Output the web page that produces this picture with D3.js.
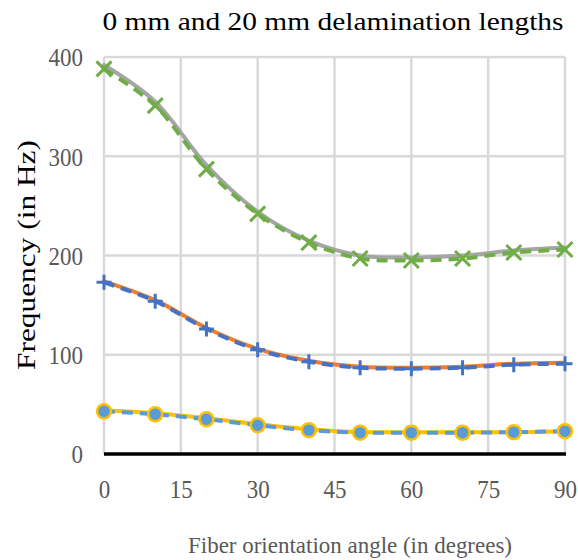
<!DOCTYPE html>
<html>
<head>
<meta charset="utf-8">
<script src="https://cdn.jsdelivr.net/npm/d3@7/dist/d3.min.js"></script>
<style>
  html, body { margin: 0; padding: 0; background: #fff; }
  svg { display: block; }
  svg text {
    font-family: "Liberation Serif", "DejaVu Serif Condensed", "DejaVu Serif", serif;
    font-stretch: condensed;
  }
</style>
</head>
<body>
<svg id="chart" width="578" height="560"></svg>
<script>
// Fiber orientation angles (degrees)
const angles = [0, 10, 20, 30, 40, 50, 60, 70, 80, 90];

// Mode 3 frequencies
const mode3_0mm  = [392, 355, 291, 244, 215, 200, 198, 200, 205, 208];
const mode3_20mm = [388, 351, 287, 242, 213, 197, 195, 197, 203, 206];

// Mode 2 frequencies
const mode2_0mm  = [174, 155, 127, 106, 94, 88, 87, 88, 91, 92];
const mode2_20mm = [173, 154, 126, 105, 93, 87, 86, 87, 90, 91];

// Mode 1 frequencies
const mode1_0mm  = [44, 41, 36, 30, 25, 22, 22, 22, 22, 23];
const mode1_20mm = [43, 40, 35, 29, 24, 21.5, 21.5, 21.5, 22, 23];

const xTicks = [0, 15, 30, 45, 60, 75, 90];
const yTicks = [0, 100, 200, 300, 400];

const svg = d3.select("#chart");

const x = d3.scaleLinear().domain([0, 90]).range([104, 565]);
const y = d3.scaleLinear().domain([0, 400]).range([454, 57]);

// Gridlines
const grid = svg.append("g");
grid.selectAll("line.h").data(yTicks.filter(d => d > 0)).join("line")
  .attr("x1", x(0)).attr("x2", x(90))
  .attr("y1", d => y(d)).attr("y2", d => y(d))
  .attr("stroke", "#d9d9d9").attr("stroke-width", 2.5);
grid.selectAll("line.v").data(xTicks).join("line")
  .attr("x1", d => x(d)).attr("x2", d => x(d))
  .attr("y1", y(400)).attr("y2", y(0))
  .attr("stroke", "#d9d9d9").attr("stroke-width", 2.5);

// Narrow digit width for tick labels
const digitW = 11.5;

// Axis tick labels
const xAxis = d3.axisBottom(x).tickValues(xTicks).tickSize(0).tickPadding(26);
const gx = svg.append("g").attr("transform", `translate(0,${y(0)})`).call(xAxis);
gx.select(".domain").remove();
gx.selectAll("text")
  .attr("font-size", 25).attr("fill", "#595959")
  .attr("textLength", d => String(d).length * digitW)
  .attr("lengthAdjust", "spacingAndGlyphs");

const yAxis = d3.axisLeft(y).tickValues(yTicks).tickSize(0).tickPadding(21);
const gy = svg.append("g").attr("transform", `translate(${x(0)},0)`).call(yAxis);
gy.select(".domain").remove();
gy.selectAll("text")
  .attr("font-size", 25).attr("fill", "#595959").attr("dy", "0.35em")
  .attr("textLength", d => String(d).length * digitW)
  .attr("lengthAdjust", "spacingAndGlyphs");

// Baseline axis
svg.append("line")
  .attr("x1", x(0)).attr("x2", x(90) + 1)
  .attr("y1", y(0)).attr("y2", y(0))
  .attr("stroke", "#000").attr("stroke-width", 3.5);

const line = d3.line()
  .x((d, i) => x(angles[i]))
  .y(d => y(d))
  .curve(d3.curveCatmullRom.alpha(0.5));

const plot = svg.append("g");

function solid(vals, color) {
  plot.append("path").attr("d", line(vals))
    .attr("fill", "none").attr("stroke", color).attr("stroke-width", 4)
    .attr("stroke-linecap", "round");
}
function dashed(vals, color) {
  plot.append("path").attr("d", line(vals))
    .attr("fill", "none").attr("stroke", color).attr("stroke-width", 4)
    .attr("stroke-dasharray", "11,7");
}

solid(mode3_0mm, "#a5a5a5");
solid(mode2_0mm, "#ed7d31");
solid(mode1_0mm, "#ffc000");
dashed(mode3_20mm, "#70ad47");
dashed(mode2_20mm, "#4472c4");
dashed(mode1_20mm, "#5b9bd5");

// Markers
const s = 7.5;
plot.append("g").selectAll("path").data(mode3_20mm).join("path")
  .attr("d", (d, i) => {
    const cx = x(angles[i]), cy = y(d);
    return `M${cx - s},${cy - s}L${cx + s},${cy + s}M${cx - s},${cy + s}L${cx + s},${cy - s}`;
  })
  .attr("stroke", "#70ad47").attr("stroke-width", 3).attr("fill", "none");

plot.append("g").selectAll("path").data(mode2_20mm).join("path")
  .attr("d", (d, i) => {
    const cx = x(angles[i]), cy = y(d);
    return `M${cx - s},${cy}L${cx + s},${cy}M${cx},${cy - s}L${cx},${cy + s}`;
  })
  .attr("stroke", "#4472c4").attr("stroke-width", 3).attr("fill", "none");

plot.append("g").selectAll("circle").data(mode1_20mm).join("circle")
  .attr("cx", (d, i) => x(angles[i])).attr("cy", d => y(d)).attr("r", 7)
  .attr("fill", "#5b9bd5").attr("stroke", "#ffc000").attr("stroke-width", 2.5);

// Titles
svg.append("text")
  .attr("x", 333).attr("y", 30).attr("text-anchor", "middle")
  .attr("font-size", 25).attr("fill", "#000")
  .attr("textLength", 461).attr("lengthAdjust", "spacingAndGlyphs")
  .text("0 mm and 20 mm delamination lengths");

svg.append("text")
  .attr("transform", "translate(35,255) rotate(-90)")
  .attr("text-anchor", "middle")
  .attr("font-size", 26).attr("fill", "#000")
  .attr("textLength", 230).attr("lengthAdjust", "spacingAndGlyphs")
  .text("Frequency (in Hz)");

svg.append("text")
  .attr("x", 350).attr("y", 553).attr("text-anchor", "middle")
  .attr("font-size", 23).attr("fill", "#595959")
  .attr("textLength", 324).attr("lengthAdjust", "spacingAndGlyphs")
  .text("Fiber orientation angle (in degrees)");
</script>
</body>
</html>
